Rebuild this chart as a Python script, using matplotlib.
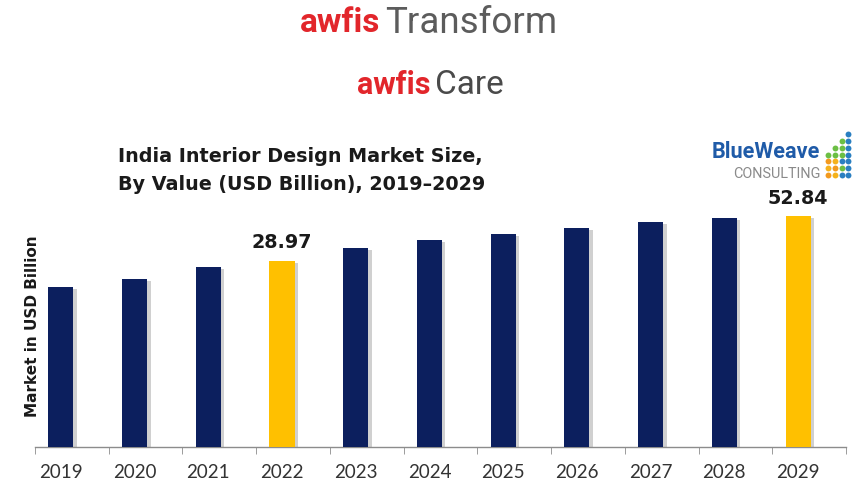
import matplotlib
matplotlib.use("Agg")
import matplotlib.pyplot as plt
import matplotlib.patheffects as pe
import numpy as np

# Market size by year (USD billion)
years = ["2019", "2020", "2021", "2022", "2023", "2024",
         "2025", "2026", "2027", "2028", "2029"]
values = [14.8, 19.0, 25.8, 28.97, 35.6, 40.1, 43.3, 46.6, 49.9, 51.8, 52.84]
highlight = ["2022", "2029"]
labelled = {"2022": "28.97", "2029": "52.84"}

NAVY = "#0c1f5e"
GOLD = "#ffc000"

W, H = 858, 484
fig = plt.figure(figsize=(W / 100, H / 100), dpi=100)
fig.patch.set_facecolor("white")


def fx(px):
    return px / W


def fy(py):
    return 1 - py / H


# Plot area
base = -71.2
scale = 1.86  # pixels per billion
ax_left, ax_right, ax_bottom, ax_top = 35, 846, 447, 190
ax = fig.add_axes([fx(ax_left), fy(ax_bottom),
                   fx(ax_right - ax_left), (ax_bottom - ax_top) / H])
ax.set_ylim(base, base + (ax_bottom - ax_top) / scale)
ax.set_xlim(-0.35, len(years) - 0.35)

x = np.arange(len(years))
colors = [GOLD if y in highlight else NAVY for y in years]
bars = ax.bar(x, [v - base for v in values], bottom=base, width=0.34,
              color=colors, linewidth=0, zorder=3)
for b in bars:
    b.set_path_effects([pe.SimplePatchShadow(offset=(2.5, -1.5),
                                             shadow_rgbFace="#8a8a8a",
                                             alpha=0.4),
                        pe.Normal()])

for i, y in enumerate(years):
    if y in labelled:
        ax.annotate(labelled[y], (x[i], values[i]), xytext=(0, 6),
                    textcoords="offset points", ha="center", va="bottom",
                    fontsize=13.8, fontweight="bold", color="#1a1a1a",
                    family="DejaVu Sans")

for s in ["top", "right", "left"]:
    ax.spines[s].set_visible(False)
ax.spines["bottom"].set_color("#8c8c8c")
ax.spines["bottom"].set_linewidth(1.0)
ax.set_yticks([])
ax.set_xticks(x)
ax.set_xticklabels(years, fontsize=13.5, color="#333333", family="Lato")
ax.tick_params(axis="x", which="major", length=0, pad=12)
ax.set_xticks(np.arange(-0.35, len(years), 1.0), minor=True)
ax.tick_params(axis="x", which="minor", length=5, color="#8c8c8c")
ax.set_facecolor("white")

ax.set_ylabel("Market in USD Billion", fontsize=11, fontweight="bold",
              color="#1a1a1a", family="DejaVu Sans")
ax.yaxis.set_label_coords(0.006, 0.47)

# Title
fig.text(fx(118), fy(156), "India Interior Design Market Size,",
         fontsize=13.8, fontweight="bold", color="#1a1a1a",
         family="DejaVu Sans", va="center", ha="left")
fig.text(fx(118), fy(184), "By Value (USD Billion), 2019\u20132029",
         fontsize=13.8, fontweight="bold", color="#1a1a1a",
         family="DejaVu Sans", va="center", ha="left")

# Brand headers
RED = "#e2262b"
fig.text(fx(380), fy(23), "awfis", fontsize=24, fontweight="bold",
         color=RED, family="Roboto", ha="right", va="center")
fig.text(fx(385), fy(23), "Transform", fontsize=26.5, color="#5c5c5c",
         family="Roboto", ha="left", va="center")
fig.text(fx(431), fy(85), "awfis", fontsize=22, fontweight="bold",
         color=RED, family="Roboto", ha="right", va="center")
fig.text(fx(435), fy(85), "Care", fontsize=24, color="#4a4a4a",
         family="Roboto", ha="left", va="center")

# BlueWeave Consulting mark
fig.text(fx(820), fy(152), "BlueWeave", fontsize=15.6, fontweight="bold",
         color="#1f5ba8", family="Roboto", ha="right", va="center")
fig.text(fx(820), fy(174), "CONSULTING", fontsize=10.4, color="#8a8a8a",
         family="Roboto", ha="right", va="center")
dot_ax = fig.add_axes([fx(822), fy(180), fx(32), 55 / H])
dot_ax.set_xlim(0, 32)
dot_ax.set_ylim(0, 55)
dot_ax.axis("off")
dot_cols = [
    ["#f39a1e", "#f5b21c", "#f39a1e", "#6cbf44"],
    ["#f5b21c", "#f39a1e", "#f5b21c", "#6cbf44", "#6cbf44"],
    ["#2a7fc1", "#6cbf44", "#2a7fc1", "#6cbf44", "#6cbf44", "#6cbf44"],
    ["#2a7fc1", "#2a7fc1", "#2a7fc1", "#2a7fc1", "#2a7fc1", "#2a7fc1", "#2a7fc1"],
]
for ci, col in enumerate(dot_cols):
    for ri, c in enumerate(col):
        dot_ax.scatter(6 + ci * 6.8, 5 + ri * 6.8, s=18, color=c,
                       linewidths=0)

fig.savefig("out.png", dpi=100, facecolor="white")
